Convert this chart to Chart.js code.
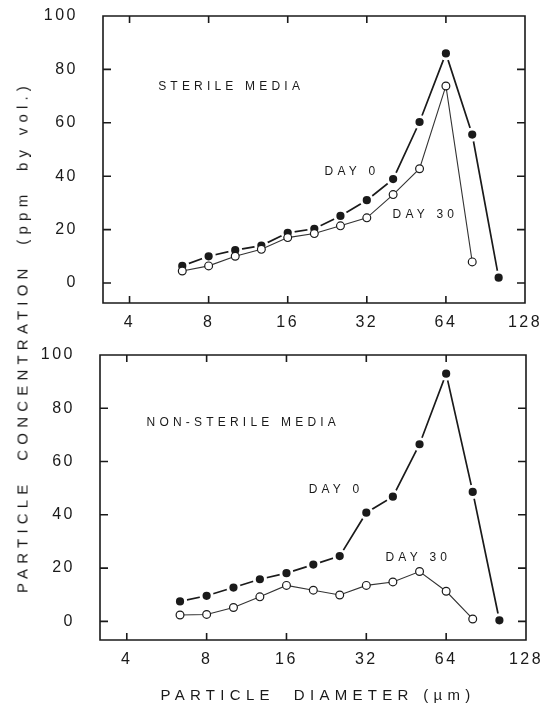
<!DOCTYPE html>
<html>
<head>
<meta charset="utf-8">
<script src="https://cdn.jsdelivr.net/npm/chart.js@4/dist/chart.umd.min.js"></script>
<style>
  body { margin: 0; background: #fff; }
  #wrap { position: relative; width: 545px; height: 705px; font-family: "Liberation Sans", Arial, sans-serif; color: #1a1a1a; }
  canvas { position: absolute; left: 0; }
  .ytitle { position: absolute; left: 22px; top: 337px; transform: translate(-50%, -50%) rotate(-90deg); white-space: pre; font-size: 15px; letter-spacing: 5.2px; }
  .xtitle { position: absolute; left: 318px; top: 694px; transform: translate(-50%, -50%); white-space: pre; font-size: 15px; letter-spacing: 5.3px; }
</style>
</head>
<body>
<div id="wrap">
  <canvas id="top" width="545" height="345" style="top:0"></canvas>
  <canvas id="bottom" width="545" height="360" style="top:345px"></canvas>
  <div class="ytitle">PARTICLE  CONCENTRATION  (ppm  by vol.)</div>
  <div class="xtitle">PARTICLE  DIAMETER (µm)</div>
</div>
<script>
// particle diameter (um), 1/3 octave steps
const diameters = [6.35, 8, 10.1, 12.7, 16, 20.2, 25.4, 32, 40.3, 50.8, 64, 80.6, 101.6];
const sterileDay0 = [6.4, 10, 12.3, 14, 18.8, 20.3, 25.1, 31, 38.9, 60.3, 86, 55.6, 2];
const sterileDay30 = [4.5, 6.4, 10, 12.6, 17, 18.5, 21.4, 24.4, 33.1, 42.8, 73.8, 7.9];
const nonSterileDay0 = [7.5, 9.6, 12.7, 15.8, 18.1, 21.3, 24.5, 40.8, 46.8, 66.5, 93, 48.6, 0.4];
const nonSterileDay30 = [2.4, 2.6, 5.2, 9.2, 13.5, 11.7, 9.9, 13.5, 14.8, 18.7, 11.3, 0.9];
const xTicks = [4, 8, 16, 32, 64, 128];
const yTicks = [0, 20, 40, 60, 80, 100];

const FONT = '"Liberation Sans", Arial, sans-serif';
const INK = '#1a1a1a';

function pts(ys) {
  return ys.map((y, i) => ({x: diameters[i], y: y}));
}

// frame, inward ticks on all sides, text labels
const framePlugin = {
  id: 'frame',
  beforeDraw(chart) {
    chart.ctx.letterSpacing = '2.5px';
  },
  afterDraw(chart) {
    let ctx = chart.ctx, a = chart.chartArea;
    let xs = chart.scales.x, ys = chart.scales.y;
    ctx.save();
    ctx.letterSpacing = '0px';
    ctx.strokeStyle = INK;
    ctx.lineWidth = 1.6;
    ctx.beginPath();
    ctx.rect(a.left, a.top, a.right - a.left, a.bottom - a.top);
    xTicks.forEach(v => {
      let px = xs.getPixelForValue(v);
      ctx.moveTo(px, a.bottom);
      ctx.lineTo(px, a.bottom - 7);
      ctx.moveTo(px, a.top);
      ctx.lineTo(px, a.top + 7);
    });
    yTicks.forEach(v => {
      let py = ys.getPixelForValue(v);
      ctx.moveTo(a.left, py);
      ctx.lineTo(a.left + 8, py);
      ctx.moveTo(a.right, py);
      ctx.lineTo(a.right - 8, py);
    });
    ctx.stroke();
    ctx.fillStyle = INK;
    ctx.font = '12px ' + FONT;
    ctx.letterSpacing = '4.2px';
    ctx.textBaseline = 'middle';
    ctx.textAlign = 'left';
    (chart.options.plugins.frame.labels || []).forEach(l => {
      ctx.fillText(l.text, xs.getPixelForValue(l.x), ys.getPixelForValue(l.y));
    });
    ctx.restore();
  }
};

function makeChart(id, day0, day30, yMin, pad, yWidth, xHeight, labels) {
  return new Chart(document.getElementById(id), {
    type: 'line',
    data: {
      datasets: [
        {
          label: 'DAY 30',
          data: pts(day30),
          order: 0,
          borderColor: '#333',
          borderWidth: 1.1,
          pointRadius: 3.9,
          pointBorderWidth: 1.2,
          pointBorderColor: INK,
          pointBackgroundColor: '#fff',
          tension: 0
        },
        {
          label: 'DAY 0',
          data: pts(day0),
          order: 1,
          borderColor: INK,
          borderWidth: 1.7,
          pointRadius: 5.6,
          pointBorderWidth: 3,
          pointBorderColor: '#fff',
          pointBackgroundColor: INK,
          tension: 0
        }
      ]
    },
    options: {
      responsive: false,
      animation: false,
      layout: {padding: pad},
      plugins: {
        legend: {display: false},
        tooltip: {enabled: false},
        frame: {labels: labels}
      },
      scales: {
        x: {
          type: 'logarithmic',
          min: 3.17,
          max: 128,
          afterBuildTicks: s => { s.ticks = xTicks.map(v => ({value: v})); },
          afterFit: s => { s.height = xHeight; s.paddingLeft = 0; s.paddingRight = 0; },
          grid: {display: false},
          border: {display: false},
          ticks: {
            autoSkip: false,
            maxRotation: 0,
            padding: 2,
            color: INK,
            font: {family: FONT, size: 16},
            callback: v => String(v)
          }
        },
        y: {
          min: yMin,
          max: 100,
          afterBuildTicks: s => { s.ticks = yTicks.map(v => ({value: v})); },
          afterFit: s => { s.width = yWidth; s.paddingTop = 0; s.paddingBottom = 0; },
          grid: {display: false},
          border: {display: false},
          ticks: {
            padding: 17,
            color: INK,
            font: {family: FONT, size: 16},
            callback: v => String(v)
          }
        }
      }
    },
    plugins: [framePlugin]
  });
}

makeChart('top', sterileDay0, sterileDay30, -7.5,
  {top: 16, right: 20, bottom: 0, left: 0}, 103, 42,
  [
    {text: 'STERILE MEDIA', x: 5.14, y: 73.4},
    {text: 'DAY 0', x: 22.1, y: 41.5},
    {text: 'DAY 30', x: 40.1, y: 25.4}
  ]);

makeChart('bottom', nonSterileDay0, nonSterileDay30, -7,
  {top: 10, right: 19, bottom: 0, left: 0}, 100, 65,
  [
    {text: 'NON-STERILE MEDIA', x: 4.75, y: 74.5},
    {text: 'DAY 0', x: 19.4, y: 49.4},
    {text: 'DAY 30', x: 37.8, y: 23.9}
  ]);
</script>
</body>
</html>
